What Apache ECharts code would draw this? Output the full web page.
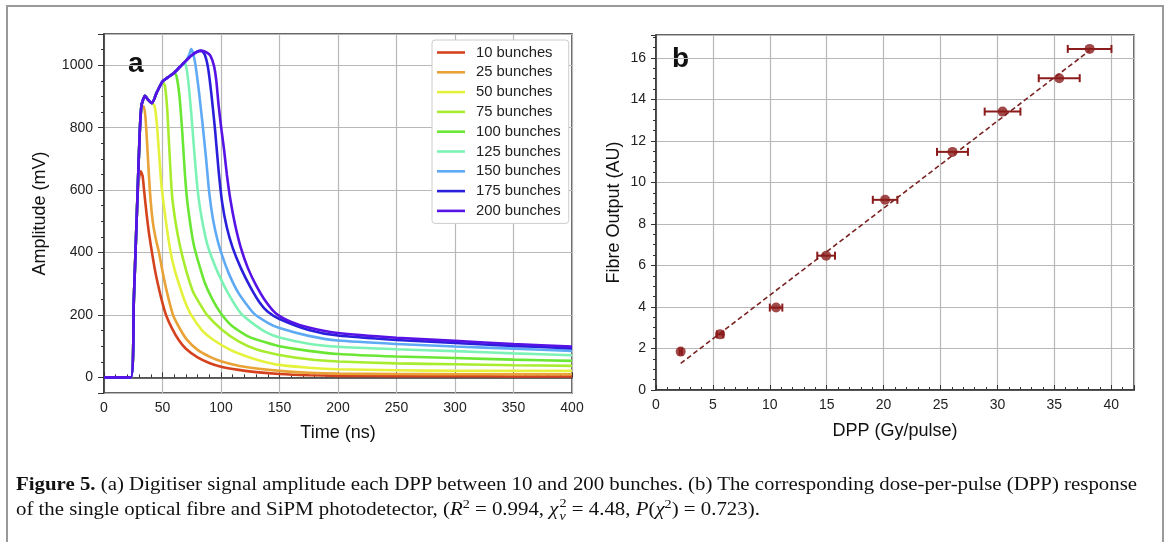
<!DOCTYPE html>
<html><head><meta charset="utf-8">
<script src="https://cdn.jsdelivr.net/npm/echarts@6/dist/echarts.min.js"></script>
<style>
html,body{margin:0;padding:0;background:#fff;}
#wrap{position:relative;width:1170px;height:542px;overflow:hidden;background:#fff;}
#chart{position:absolute;left:0;top:0;width:1170px;height:542px;}
#frame{position:absolute;left:6px;top:5px;width:1158px;height:600px;border:2px solid #9a9a9a;box-sizing:border-box;pointer-events:none;}
#caption{position:absolute;left:16px;top:472px;font-family:'Liberation Serif','DejaVu Serif',serif;font-size:18.5px;line-height:25px;color:#111;white-space:nowrap;transform-origin:0 0;}
#caption .ln{display:block;}
#caption sup{font-size:0.68em;vertical-align:0.55em;line-height:0;}
#caption .ss{display:inline-flex;flex-direction:column;font-size:0.68em;line-height:1.05em;vertical-align:0.66em;margin-left:1px;}
</style></head>
<body>
<div id="wrap">
  <div id="chart"></div>
  <div id="frame"></div>
  <div id="caption">
    <span class="ln" id="cap1"><b>Figure 5.</b> (a) Digitiser signal amplitude each DPP between 10 and 200 bunches. (b) The corresponding dose-per-pulse (DPP) response</span>
    <span class="ln" id="cap2">of the single optical fibre and SiPM photodetector, (<i>R</i><sup>2</sup> = 0.994, <i>χ</i><span class="ss"><span>2</span><span><i>ν</i></span></span> = 4.48, <i>P</i>(<i>χ</i><sup>2</sup>) = 0.723).</span>
  </div>
</div>
<script>
// ---- Panel (a): digitiser signal amplitude (mV) vs time (ns) ----
const seriesNames = ['10 bunches','25 bunches','50 bunches','75 bunches','100 bunches','125 bunches','150 bunches','175 bunches','200 bunches'];
const seriesColors = ['#d4431d','#e9a236','#e4f23c','#a8ec2e','#6ae634','#7cf3b4','#5eaaf4','#2a20dc','#5712e6'];

const b10 = [[0,0],[23,0],[25.5,250],[28.5,569],[30,640],[31.5,660],[33,645],[34.5,590],[36.5,520],[38.5,460],[41,400],[43.5,345],[46,300],[49.5,245],[53,200],[58,158],[64,119],[70,92],[80,64],[90,46],[100,34],[115,24],[130,17],[150,11],[175,7],[200,5],[250,4],[300,4],[350,3],[400,3]];
const b25 = [[0,0],[23,0],[25.5,250],[28.5,569],[30.5,780],[32,860],[34,868],[35.5,830],[37,740],[38.5,640],[40,560],[42,490],[44.5,440],[47,400],[50,340],[54,270],[59,200],[65,155],[71,120],[80,88],[91,65],[100,52],[120,34],[150,21],[175,15],[200,12],[250,11],[300,10],[350,10],[400,10]];
const b50 = [[0,0],[23,0],[25.5,250],[28.5,569],[30.5,780],[32,870],[35,902],[38,888],[41,878],[43,872],[45,820],[47,720],[49,620],[51,555],[54,470],[57,400],[60,350],[64,300],[69,245],[74.5,200],[84,150],[94,119],[108,88],[122,67],[135,52],[150,40],[175,31],[200,26],[250,23],[300,21],[350,21],[400,21]];
const b75 = [[0,0],[23,0],[25.5,250],[28.5,569],[30.5,780],[32,870],[35,902],[38,888],[41,878],[45,912],[50,946],[52,935],[54,860],[56,720],[58,590],[61,500],[65,420],[70,345],[76,275],[82,235],[88,200],[100,155],[115,115],[130,90],[150,72],[175,58],[200,51],[250,45],[300,42],[350,39],[400,37]];
const b100 = [[0,0],[23,0],[25.5,250],[28.5,569],[30.5,780],[32,870],[35,902],[38,888],[41,878],[45,912],[50,948],[55,962],[60,976],[62,965],[64.5,900],[67,780],[69,660],[71,570],[74,485],[77,420],[81,365],[86,305],[92,255],[100,205],[110,163],[125,128],[140,110],[150,100],[175,85],[200,75],[250,67],[300,62],[350,57],[400,53]];
const b125 = [[0,0],[23,0],[25.5,250],[28.5,569],[30.5,780],[32,870],[35,902],[38,888],[41,878],[45,912],[50,948],[55,962],[60,976],[65,995],[68.5,1008],[70,1000],[72,950],[74.5,850],[77,730],[79,640],[81,570],[84,500],[88,430],[92,385],[98,330],[106,270],[117,205],[130,165],[140,142],[150,128],[175,108],[200,98],[250,90],[300,84],[350,77],[400,71]];
const b150 = [[0,0],[23,0],[25.5,250],[28.5,569],[30.5,780],[32,870],[35,902],[38,888],[41,878],[45,912],[50,948],[55,962],[60,976],[65,995],[70,1014],[73,1035],[74.5,1052],[76,1040],[78,1005],[81,920],[84,820],[87,710],[90,590],[93,510],[97,440],[101,390],[107,330],[115,270],[128,205],[140,175],[150,158],[175,133],[200,118],[250,107],[300,99],[350,92],[400,85]];
const b175 = [[0,0],[23,0],[25.5,250],[28.5,569],[30.5,780],[32,870],[35,902],[38,888],[41,878],[45,912],[50,948],[55,962],[60,976],[65,995],[70,1014],[75,1032],[80,1044],[83,1047],[86,1035],[89,990],[92,900],[95,790],[98,660],[101,560],[105,480],[110,415],[117,350],[125,290],[133,240],[140,210],[150,187],[175,152],[200,134],[250,120],[300,110],[350,101],[400,93]];
const b200 = [[0,0],[23,0],[25.5,250],[28.5,569],[30.5,780],[32,870],[35,902],[38,888],[41,878],[45,912],[50,948],[55,962],[60,976],[65,995],[70,1014],[75,1032],[80,1044],[84,1046],[88,1040],[91,1030],[94,998],[96,950],[98,870],[100.5,790],[102.6,730],[105,650],[108,570],[112,490],[117,415],[123,350],[130,295],[138,245],[147,205],[160,178],[175,160],[200,142],[250,127],[300,117],[350,107],[400,99]];
const curves = [b10,b25,b50,b75,b100,b125,b150,b175,b200];

// ---- Panel (b): fibre output vs DPP ----
const dppX   = [2.17, 5.63, 10.55, 14.95, 20.13, 26.05, 30.45, 35.43, 38.1];
const fibreY = [1.85, 2.68, 3.97, 6.47, 9.16, 11.47, 13.41, 15.02, 16.43];
const dppErr = [0.1, 0.28, 0.55, 0.78, 1.08, 1.36, 1.57, 1.8, 1.92];
const fitX = [2.17, 38.1];
const fitY = [1.28, 16.35];

const darkRed = '#8b1c1c';
const sans = "'Liberation Sans', Arial, sans-serif";

const chart = echarts.init(document.getElementById('chart'), null, {renderer:'canvas'});

const lineSeries = curves.map((d, i) => ({
  type:'line', name: seriesNames[i], xAxisIndex:0, yAxisIndex:0,
  data: d, showSymbol:false, symbol:'none', smooth:0.2,
  lineStyle:{width:2.6, color: seriesColors[i]}, itemStyle:{color: seriesColors[i]},
  z: 2 + i, animation:false
}));

const axisCommon = {
  axisLine:{show:true, lineStyle:{color:'#333', width:1.5}},
  splitLine:{show:true, lineStyle:{color:'#b8b8b8', width:1.2}},
  axisLabel:{fontFamily:sans, fontSize:14, color:'#222'},
  nameTextStyle:{fontFamily:sans, fontSize:18, color:'#111'},
  nameLocation:'middle'
};

const option = {
  animation:false,
  backgroundColor:'transparent',
  grid:[
    {left:104, top:34, width:468, height:359, show:true, borderColor:'#333', borderWidth:1.5, backgroundColor:'transparent'},
    {left:656, top:35, width:478, height:355, show:true, borderColor:'#333', borderWidth:1.5, backgroundColor:'transparent'}
  ],
  xAxis:[
    Object.assign({}, axisCommon, {gridIndex:0, type:'value', min:0, max:400, interval:50,
      name:'Time (ns)', nameGap:31,
      axisTick:{show:true, inside:true, length:5, lineStyle:{color:'#333'}},
      minorTick:{show:true, splitNumber:5, length:3, lineStyle:{color:'#333'}},
      axisLabel:Object.assign({}, axisCommon.axisLabel, {margin:8})}),
    Object.assign({}, axisCommon, {gridIndex:1, type:'value', min:0, max:42, interval:5,
      name:'DPP (Gy/pulse)', nameGap:32,
      axisTick:{show:true, inside:true, length:5, lineStyle:{color:'#333'}},
      minorTick:{show:true, splitNumber:5, length:3, lineStyle:{color:'#333'}},
      axisLabel:Object.assign({}, axisCommon.axisLabel, {margin:8, showMaxLabel:false})})
  ],
  yAxis:[
    Object.assign({}, axisCommon, {gridIndex:0, type:'value', min:-50, max:1100, splitNumber:6,
      name:'Amplitude (mV)', nameGap:55,
      axisTick:{show:true, inside:false, length:6, lineStyle:{color:'#333'}},
      minorTick:{show:true, splitNumber:4, length:3, lineStyle:{color:'#333'}},
      axisLabel:Object.assign({}, axisCommon.axisLabel, {margin:11, showMinLabel:false, showMaxLabel:false,
        formatter:function(v){ return String(v); }})}),
    Object.assign({}, axisCommon, {gridIndex:1, type:'value', min:0, max:17.1, interval:2,
      name:'Fibre Output (AU)', nameGap:33,
      axisTick:{show:true, inside:false, length:5, lineStyle:{color:'#333'}},
      minorTick:{show:true, splitNumber:4, length:3, lineStyle:{color:'#333'}},
      axisLabel:Object.assign({}, axisCommon.axisLabel, {margin:10, showMaxLabel:false})})
  ],
  legend:{
    data: seriesNames, orient:'vertical', left:432, top:40,
    icon:'path://M0,0H28V2.6H0Z',
    itemWidth:28, itemHeight:14, itemGap:4.8,
    padding:[5,8,5,5],
    borderColor:'#cccccc', borderWidth:1, borderRadius:3, backgroundColor:'#fff',
    textStyle:{fontFamily:sans, fontSize:14.8, lineHeight:14, color:'#222', padding:[0,0,0,6]}
  },
  graphic:[
    {type:'text', left:128, top:50, style:{text:'a', font:"bold 28px 'Liberation Sans', Arial, sans-serif", fill:'#111'}},
    {type:'text', left:672, top:45, style:{text:'b', font:"bold 28px 'Liberation Sans', Arial, sans-serif", fill:'#111'}}
  ],
  series: lineSeries.concat([
    {type:'line', name:'fit', xAxisIndex:1, yAxisIndex:1,
      data: fitX.map((x,i)=>[x, fitY[i]]), showSymbol:false, symbol:'none',
      lineStyle:{color:'#7a2424', width:1.6, type:[5,3]}, z:2},
    {type:'custom', name:'err', xAxisIndex:1, yAxisIndex:1,
      data: dppX.map((x,i)=>[x, fibreY[i], dppErr[i]]),
      encode:{x:0, y:1},
      renderItem:function(params, api){
        const x = api.value(0), y = api.value(1), e = api.value(2);
        const p1 = api.coord([x-e, y]), p2 = api.coord([x+e, y]);
        const h = 4;
        const st = {stroke:darkRed, lineWidth:2};
        return {type:'group', children:[
          {type:'line', shape:{x1:p1[0], y1:p1[1], x2:p2[0], y2:p2[1]}, style:st},
          {type:'line', shape:{x1:p1[0], y1:p1[1]-h, x2:p1[0], y2:p1[1]+h}, style:st},
          {type:'line', shape:{x1:p2[0], y1:p2[1]-h, x2:p2[0], y2:p2[1]+h}, style:st}
        ]};
      }, z:3},
    {type:'scatter', name:'data', xAxisIndex:1, yAxisIndex:1,
      data: dppX.map((x,i)=>[x, fibreY[i]]), symbol:'circle', symbolSize:10,
      itemStyle:{color:darkRed}, z:4}
  ])
};
chart.setOption(option);

// fit caption width to the reference layout
(function(){
  const cap = document.getElementById('caption');
  const l1 = document.getElementById('cap1');
  l1.style.display='inline-block';
  const w = l1.getBoundingClientRect().width;
  l1.style.display='block';
  const target = 1121;
  if (w > 0) cap.style.transform = 'scaleX(' + (target / w).toFixed(4) + ')';
})();
</script>
</body></html>
